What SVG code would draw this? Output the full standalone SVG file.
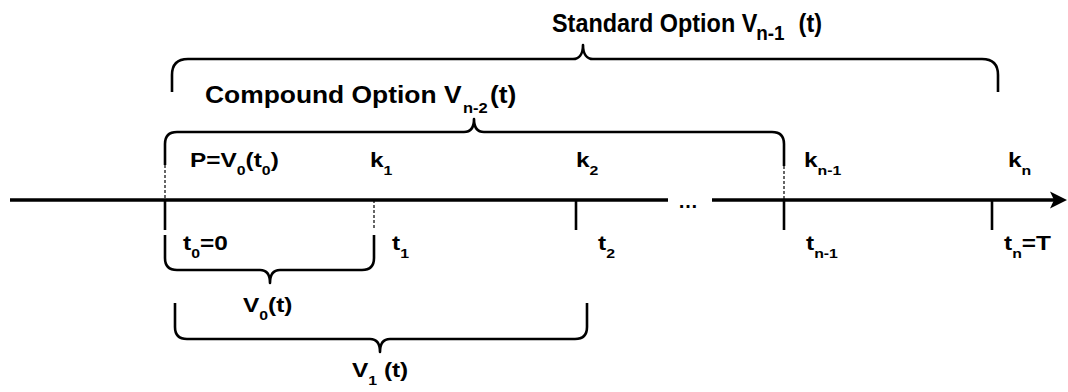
<svg xmlns="http://www.w3.org/2000/svg" width="1068" height="392" viewBox="0 0 1068 392">
<style>
text{font-family:"Liberation Sans",Arial,sans-serif;font-weight:bold;fill:#000}
.lbl{font-size:20px}
.sub{font-size:13px}
.brace{fill:none;stroke:#000;stroke-width:2.6;stroke-linejoin:round}
.tick{stroke:#000;stroke-width:2.6}
.dash{stroke:#000;stroke-width:1.2;stroke-dasharray:3 2}
.axis{stroke:#000;stroke-width:3.5}
</style>
<rect width="1068" height="392" fill="#fff"/>
<g id="connectors">
  <line class="axis" x1="10" y1="200" x2="668" y2="200"/>
  <line class="axis" x1="712" y1="200" x2="1054" y2="200"/>
  <path d="M1067,200 L1050,191.5 L1054,200 L1050,208.5 Z" fill="#000"/>
  <line class="tick" x1="165" y1="200" x2="165" y2="230"/>
  <line class="dash" x1="374" y1="200" x2="374" y2="230"/>
  <line class="tick" x1="576" y1="200" x2="576" y2="230"/>
  <line class="tick" x1="784" y1="200" x2="784" y2="230"/>
  <line class="tick" x1="992" y1="200" x2="992" y2="230"/>
  <line class="dash" x1="165" y1="165" x2="165" y2="200"/>
  <line class="dash" x1="784" y1="166" x2="784" y2="200"/>
</g>
<g id="ellipsis"><text class="lbl" x="678" y="208">…</text></g>
<g id="standard-option">
  <path class="brace" d="M172,92 L172,75 Q172,59 188,59 L573,59 C579,59 583,54 583,45 C583,54 587,59 593,59 L982,59 Q998,59 998,75 L998,92"/>
  <text transform="translate(552,32) scale(0.9,1)" style="font-size:26px">Standard Option V<tspan x="227" y="8" style="font-size:21px">n-1</tspan><tspan x="274" y="0">(t)</tspan></text>
</g>
<g id="compound-option">
  <path class="brace" d="M165,165 L165,144 Q165,132 177,132 L464,132 C470,132 474,128 474,119 C474,128 478,132 484,132 L772,132 Q784,132 784,144 L784,166"/>
  <text transform="translate(205,103) scale(1.1,1)" style="font-size:24px">Compound Option V<tspan x="234.5" y="10" style="font-size:15px">n-2</tspan><tspan x="259" y="0">(t)</tspan></text>
</g>
<g id="v0">
  <path class="brace" d="M165,235 L165,258 Q165,270 177,270 L260,270 C266,270 270,274 270,283 C270,274 274,270 280,270 L362,270 Q374,270 374,258 L374,235"/>
  <text class="lbl" transform="translate(243,312) scale(1.22,1)">V<tspan class="sub" dy="8">0</tspan><tspan dy="-8">(t)</tspan></text>
</g>
<g id="v1">
  <path class="brace" d="M175,303 L175,327 Q175,339 187,339 L370,339 C376,339 380,343 380,352 C380,343 384,339 390,339 L575,339 Q587,339 587,327 L587,303"/>
  <text class="lbl" transform="translate(352,377) scale(1.22,1)">V<tspan class="sub" dy="8">1</tspan><tspan dy="-8"> (t)</tspan></text>
</g>
<g id="p-label"><text class="lbl" transform="translate(190,167) scale(1.22,1)">P=V<tspan class="sub" dy="8">0</tspan><tspan dy="-8">(t</tspan><tspan class="sub" dy="8">0</tspan><tspan dy="-8">)</tspan></text></g>
<g id="k1"><text class="lbl" transform="translate(370,167) scale(1.22,1)">k<tspan class="sub" dy="8">1</tspan></text></g>
<g id="k2"><text class="lbl" transform="translate(576,167) scale(1.22,1)">k<tspan class="sub" dy="8">2</tspan></text></g>
<g id="kn-1"><text class="lbl" transform="translate(804,167) scale(1.22,1)">k<tspan class="sub" dy="8">n-1</tspan></text></g>
<g id="kn"><text class="lbl" transform="translate(1008,167) scale(1.22,1)">k<tspan class="sub" dy="8">n</tspan></text></g>
<g id="t0"><text class="lbl" transform="translate(183,250) scale(1.22,1)">t<tspan class="sub" dy="8">0</tspan><tspan dy="-8">=0</tspan></text></g>
<g id="t1"><text class="lbl" transform="translate(392,250) scale(1.22,1)">t<tspan class="sub" dy="8">1</tspan></text></g>
<g id="t2"><text class="lbl" transform="translate(598,250) scale(1.22,1)">t<tspan class="sub" dy="8">2</tspan></text></g>
<g id="tn-1"><text class="lbl" transform="translate(806,250) scale(1.22,1)">t<tspan class="sub" dy="8">n-1</tspan></text></g>
<g id="tn"><text class="lbl" transform="translate(1004,250) scale(1.22,1)">t<tspan class="sub" dy="8">n</tspan><tspan dy="-8">=T</tspan></text></g>
</svg>
